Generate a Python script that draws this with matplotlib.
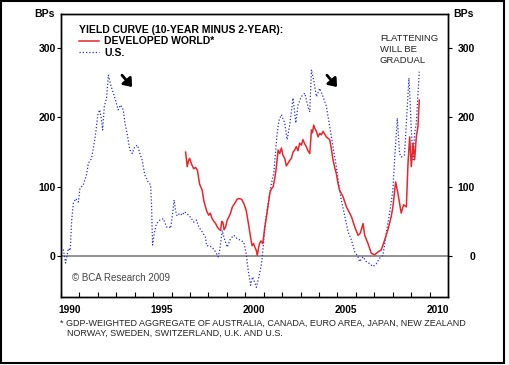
import matplotlib
matplotlib.use("Agg")
import matplotlib.pyplot as plt
from matplotlib.patches import Rectangle

plt.rcParams["font.family"] = "Liberation Sans"

# U.S. 10y-2y spread (bps)
us_year = [1990.00, 1990.13, 1990.25, 1990.40, 1990.50, 1990.58, 1990.67, 1990.80, 1990.94,
           1991.03, 1991.20, 1991.40, 1991.48, 1991.66, 1991.80, 1991.88, 1992.00, 1992.10,
           1992.18, 1992.26, 1992.35, 1992.47, 1992.57, 1992.70, 1992.84, 1992.98, 1993.10,
           1993.23, 1993.38, 1993.47, 1993.60, 1993.74, 1993.87, 1994.00, 1994.15, 1994.28,
           1994.40, 1994.55, 1994.73, 1994.86, 1994.91, 1994.97, 1995.06, 1995.18, 1995.37,
           1995.55, 1995.73, 1995.88, 1995.95, 1996.05, 1996.14, 1996.22, 1996.30, 1996.45,
           1996.58, 1996.70, 1996.85, 1997.03, 1997.20, 1997.35, 1997.48, 1997.66, 1997.84,
           1997.90, 1998.02, 1998.20, 1998.39, 1998.53, 1998.62, 1998.75, 1998.84, 1999.02,
           1999.20, 1999.38, 1999.56, 1999.74, 1999.92, 2000.05, 2000.16, 2000.29, 2000.40,
           2000.47, 2000.60, 2000.74, 2000.88, 2000.97, 2001.10, 2001.26, 2001.42, 2001.55,
           2001.64, 2001.72, 2001.82, 2001.96, 2002.14, 2002.27, 2002.41, 2002.59, 2002.74,
           2002.86, 2003.04, 2003.23, 2003.40, 2003.50, 2003.59, 2003.71, 2003.86, 2004.04,
           2004.22, 2004.40, 2004.58, 2004.76, 2004.94, 2005.12, 2005.21, 2005.40, 2005.58,
           2005.76, 2005.94, 2006.12, 2006.21, 2006.39, 2006.57, 2006.75, 2006.93, 2007.11,
           2007.29, 2007.47, 2007.65, 2007.83, 2008.01, 2008.10, 2008.25, 2008.37, 2008.46,
           2008.64, 2008.77, 2008.88, 2008.95, 2009.00, 2009.10, 2009.19, 2009.28, 2009.37,
           2009.44]
us_bps = [13, 9, -10, 11, 8, 52, 76, 83, 78,
          98, 102, 119, 134, 141, 163, 177, 204, 211,
          200, 182, 216, 228, 261, 247, 235, 223, 211,
          218, 211, 192, 175, 153, 148, 158, 160, 148,
          139, 117, 107, 103, 76, 16, 33, 47, 52,
          54, 42, 42, 40, 60, 81, 65, 58, 62,
          59, 64, 61, 56, 49, 52, 42, 35, 27,
          15, 15, 13, 6, -1, 10, 37, 27, 13,
          25, 30, 25, 23, 20, 3, -21, -42, -30,
          -35, -45, -30, -11, 13, 52, 80, 105, 120,
          150, 175, 195, 204, 192, 168, 189, 228, 192,
          218, 230, 235, 216, 208, 269, 254, 230, 242,
          230, 216, 187, 158, 129, 95, 81, 57, 35,
          23, 6, -1, -8, -1, -8, -11, -15, -11,
          -3, 1, 33, 62, 95, 139, 199, 148, 143,
          146, 206, 257, 220, 187, 139, 177, 192, 235,
          266]

# Developed world aggregate (bps)
dw_year = [1996.76, 1996.85, 1996.92, 1996.98, 1997.08, 1997.20, 1997.30, 1997.40, 1997.52,
           1997.66, 1997.75, 1997.84, 1997.92, 1998.02, 1998.10, 1998.20, 1998.30, 1998.39,
           1998.48, 1998.57, 1998.66, 1998.72, 1998.78, 1998.85, 1998.93, 1999.02, 1999.10,
           1999.20, 1999.30, 1999.40, 1999.47, 1999.56, 1999.65, 1999.80, 1999.92, 2000.05,
           2000.12, 2000.20, 2000.30, 2000.37, 2000.45, 2000.52, 2000.60, 2000.65, 2000.72,
           2000.77, 2000.85, 2000.95, 2001.05, 2001.15, 2001.25, 2001.33, 2001.42, 2001.51,
           2001.60, 2001.69, 2001.78, 2001.87, 2001.96, 2002.05, 2002.14, 2002.23, 2002.32,
           2002.41, 2002.50, 2002.59, 2002.68, 2002.77, 2002.86, 2002.95, 2003.04, 2003.13,
           2003.22, 2003.31, 2003.40, 2003.50, 2003.59, 2003.65, 2003.71, 2003.78, 2003.86,
           2003.95, 2004.04, 2004.13, 2004.22, 2004.31, 2004.40, 2004.49, 2004.58, 2004.67,
           2004.76, 2004.85, 2004.94, 2005.03, 2005.12, 2005.30, 2005.49, 2005.76, 2005.94,
           2006.12, 2006.24, 2006.39, 2006.48, 2006.66, 2006.84, 2007.02, 2007.20, 2007.38,
           2007.56, 2007.74, 2007.92, 2008.01, 2008.16, 2008.28, 2008.46, 2008.59, 2008.74,
           2008.83, 2008.92, 2009.01, 2009.10, 2009.19, 2009.28, 2009.37, 2009.44]
dw_bps = [150, 129, 138, 141, 133, 126, 128, 124, 104,
          95, 80, 71, 64, 59, 62, 54, 50, 47,
          42, 39, 37, 50, 49, 38, 42, 52, 56,
          62, 71, 75, 78, 82, 83, 82, 76, 66,
          55, 42, 25, 15, 18, 13, 8, 1, 12,
          18, 22, 18, 40, 57, 75, 91, 97, 100,
          112, 129, 153, 148, 156, 145, 141, 130, 134,
          138, 141, 150, 153, 158, 152, 163, 160, 168,
          162, 158, 152, 148, 182, 178, 189, 184, 180,
          172, 177, 175, 180, 176, 172, 170, 168, 155,
          139, 128, 119, 105, 95, 86, 71, 57, 42,
          30, 33, 47, 30, 18, 4, 2, 6, 9,
          23, 38, 57, 71, 107, 91, 62, 74, 71,
          134, 172, 129, 163, 139, 172, 187, 225]

y_ticks = [0, 100, 200, 300]
year_labels = ["1990", "1995", "2000", "2005", "2010"]

fig = plt.figure(figsize=(5.1, 3.65), dpi=100)
ax = fig.add_axes([61 / 510, 1 - 297 / 365, 387 / 510, 283.5 / 365])
ax.set_xlim(1990, 2011)
ax.set_ylim(-59, 350)

ax.axhline(0, color="#808080", lw=1.2, zorder=1)
ax.plot(dw_year, dw_bps, color="#e8262b", lw=1.1, zorder=3, label="DEVELOPED WORLD*")
ax.plot(us_year, us_bps, color="#2b2bd6", lw=0.9, ls=(0, (1, 1.6)), zorder=2, label="U.S.")

# x axis: yearly inward ticks, labels sit mid-year
ax.set_xticks(range(1990, 2011))
ax.tick_params(axis="x", which="major", direction="in", length=3.6, width=0.8, labelbottom=False)
ax.set_xticks([int(y) + 0.45 for y in year_labels], minor=True)
ax.set_xticklabels(year_labels, minor=True, fontweight="bold", fontsize=7.3)
ax.tick_params(axis="x", which="minor", length=0, pad=6)

ax.set_yticks(y_ticks)
ax.set_yticklabels([str(v) for v in y_ticks], fontweight="bold", fontsize=7.5)
ax.tick_params(axis="y", direction="out", length=3, width=0.8, pad=0.8)

ax2 = ax.twinx()
ax2.set_ylim(ax.get_ylim())
ax2.set_yticks(y_ticks)
ax2.set_yticklabels([str(v) for v in y_ticks], fontweight="bold", fontsize=7.5, ha="right")
ax2.tick_params(axis="y", direction="out", length=3, width=0.8, pad=16.5)

for a in (ax, ax2):
    for s in a.spines.values():
        s.set_linewidth(1.0)

fig.text(44 / 510, 1 - 14 / 365, "BPs", fontweight="bold", fontsize=7.5, ha="center", va="center")
fig.text(463 / 510, 1 - 14 / 365, "BPs", fontweight="bold", fontsize=7.5, ha="center", va="center")

leg = ax.legend(loc="upper left", bbox_to_anchor=(0.0465, 0.96), frameon=False,
                title="YIELD CURVE (10-YEAR MINUS 2-YEAR):", alignment="left",
                prop={"weight": "bold", "size": 7.5},
                title_fontproperties={"weight": "bold", "size": 7.5},
                handlelength=1.9, handletextpad=0.5, labelspacing=0.15,
                borderpad=0, borderaxespad=0)

ax.text(2007.3, 320, "FLATTENING\nWILL BE\nGRADUAL", fontsize=6.8, ha="left", va="top",
        linespacing=1.3, color="#222222")
ax.text(1990.6, -32, "\u00a9 BCA Research 2009", fontsize=7, color="#444444", va="center")

# the two small "flattening" arrows
for x0 in (1993.31, 2004.43):
    ax.annotate("", xy=(x0 + 0.55, 244), xytext=(x0, 261),
                arrowprops=dict(arrowstyle="-|>,head_length=0.45,head_width=0.35", lw=2.0,
                                color="black", mutation_scale=10, shrinkA=0, shrinkB=0))

fig.text(60 / 510, 1 - 323.5 / 365,
         "* GDP-WEIGHTED AGGREGATE OF AUSTRALIA, CANADA, EURO AREA, JAPAN, NEW ZEALAND",
         fontsize=6.5, va="center", color="#222222")
fig.text(67 / 510, 1 - 333.5 / 365, "NORWAY, SWEDEN, SWITZERLAND, U.K. AND U.S.",
         fontsize=6.5, va="center", color="#222222")

fig.patches.append(Rectangle((0.002, 0.006), 0.986, 0.991, transform=fig.transFigure,
                             fill=False, lw=1.5, ec="black"))

fig.savefig("out.png", dpi=100)
